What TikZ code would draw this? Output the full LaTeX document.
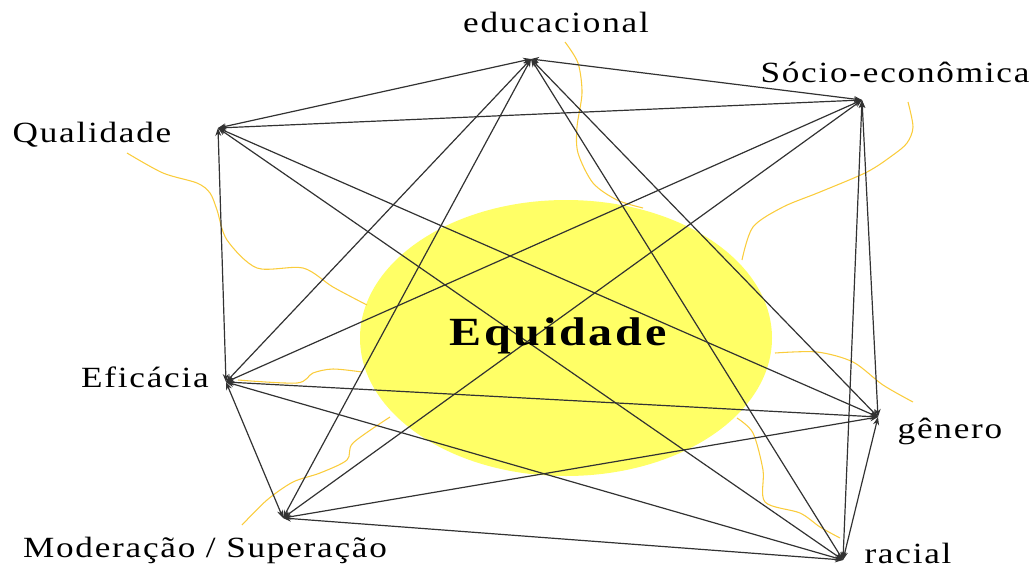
\documentclass[tikz,border=0pt]{standalone}
\usepackage{fontspec}
\setmainfont{Liberation Serif}
\usepackage{tikz}
\usetikzlibrary{arrows.meta}

\definecolor{eqyellow}{RGB}{255,255,102}
\definecolor{wire}{RGB}{250,204,60}
\definecolor{edgegray}{RGB}{50,50,50}

\newcommand{\widen}[1]{\scalebox{1.2}[1]{#1}}

\begin{document}
\begin{tikzpicture}[x=0.75pt, y=-0.75pt, >={Stealth[length=6pt,width=4.5pt]},
    link/.style={<->, draw=edgegray, line width=0.9pt},
    trace/.style={draw=wire, line width=0.8pt},
    lbl/.style={inner sep=0pt, anchor=base, font=\fontsize{22}{24}\selectfont\addfontfeature{LetterSpace=5}},
    core/.style={inner sep=0pt, anchor=base, font=\bfseries\fontsize{30}{32}\selectfont\addfontfeature{LetterSpace=6}}]
  \useasboundingbox (0,0) rectangle (1036,568);
  % central ellipse
  \fill[eqyellow] (566,338) ellipse [x radius=206, y radius=138];
  % meeting points
  \coordinate (educ) at (531,59);
  \coordinate (socio) at (862,100);
  \coordinate (qual) at (218,128);
  \coordinate (efic) at (226,382);
  \coordinate (gen) at (878,417);
  \coordinate (mod) at (283,518);
  \coordinate (rac) at (843,560);
  % yellow traces
  \draw[trace] plot[smooth] coordinates {(127,153) (163,173) (197,183) (210,193) (217,210) (227,240) (257,268) (303,268) (333,287) (367,305)};
  \draw[trace] plot[smooth] coordinates {(565,42) (578,63) (582,93) (577,127) (578,153) (593,183) (617,200) (643,208)};
  \draw[trace] plot[smooth] coordinates {(908,102) (913,127) (907,143) (893,155) (867,172) (820,192) (783,207) (753,227) (742,260)};
  \draw[trace] plot[smooth] coordinates {(775,353) (817,352) (853,362) (883,385) (913,402)};
  \draw[trace] plot[smooth] coordinates {(737,418) (753,433) (763,470) (765,502) (800,513) (820,527) (840,538)};
  \draw[trace] plot[smooth] coordinates {(238,380) (297,383) (313,373) (333,369) (362,372)};
  \draw[trace] plot[smooth] coordinates {(242,525) (267,500) (293,482) (320,473) (347,460) (353,443) (390,417)};
  % connectors
  \foreach \a/\b in {educ/socio, educ/qual, educ/efic, educ/mod, educ/gen, educ/rac,
                     socio/qual, socio/efic, socio/mod, socio/gen, socio/rac,
                     qual/efic, qual/gen, qual/rac,
                     efic/mod, efic/gen, efic/rac,
                     mod/gen, mod/rac, gen/rac}
    \draw[link] (\a) -- (\b);
  % labels
  \node[core] (eq) at (558,345) {\widen{Equidade}};
  \node[lbl] (educlbl) at (556,32) {\widen{educacional}};
  \node[lbl] (sociolbl) at (895,82) {\widen{Sócio-econômica}};
  \node[lbl] (quallbl) at (92,142) {\widen{Qualidade}};
  \node[lbl] (eficlbl) at (145,387) {\widen{Eficácia}};
  \node[lbl] (genlbl) at (950,438) {\widen{gênero}};
  \node[lbl] (modlbl) at (205,557) {\widen{Moderação / Superação}};
  \node[lbl] (raclbl) at (908,563) {\widen{racial}};
\end{tikzpicture}
\end{document}
